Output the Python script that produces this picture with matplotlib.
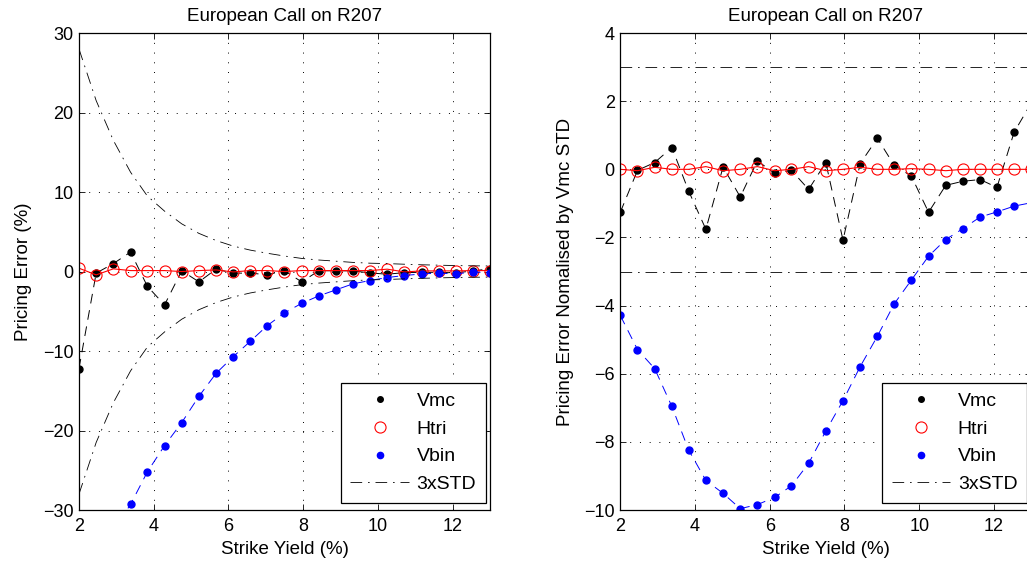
import numpy as np
import matplotlib
matplotlib.use("Agg")
import matplotlib.pyplot as plt
from matplotlib.lines import Line2D

plt.rcParams['font.family'] = ['Liberation Sans', 'DejaVu Sans']
plt.rcParams['font.size'] = 13

# strike yields (%)
strikes = [2.00, 2.46, 2.92, 3.38, 3.83, 4.29, 4.75, 5.21, 5.67, 6.13,
           6.58, 7.04, 7.50, 7.96, 8.42, 8.88, 9.33, 9.79, 10.25, 10.71,
           11.17, 11.63, 12.08, 12.54, 13.00]

# pricing error (%)
vmc_err = [-12.2, -0.2, 1.0, 2.45, -1.85, -4.2, 0.1, -1.3, 0.3, -0.2,
           -0.2, -0.4, 0.1, -1.3, 0.1, 0.1, 0.08, -0.17, -0.34, -0.13,
           -0.1, -0.1, -0.17, 0.08, 0.34]
htri_err = [0.42, -0.42, 0.34, 0.12, 0.12, 0.12, 0.0, 0.12, 0.2, -0.05,
            0.12, 0.12, 0.0, 0.12, 0.12, 0.12, 0.12, 0.12, 0.3, -0.05,
            0.08, 0.08, 0.08, 0.12, 0.12]
vbin_err = [-40.0, -37.0, -32.5, -29.3, -25.2, -21.9, -19.0, -15.7, -12.8, -10.7,
            -8.8, -6.8, -5.2, -4.0, -3.06, -2.3, -1.55, -1.13, -0.75, -0.5,
            -0.3, -0.2, -0.3, -0.05, -0.15]
std3 = [28.0, 21.5, 16.5, 12.5, 9.5, 7.6, 6.0, 4.8, 3.9, 3.2,
        2.7, 2.3, 1.95, 1.65, 1.45, 1.3, 1.15, 1.05, 1.0, 0.92,
        0.85, 0.8, 0.75, 0.72, 0.7]

# pricing error normalised by Vmc STD
vmc_norm = [-1.26, -0.03, 0.2, 0.64, -0.64, -1.76, 0.07, -0.81, 0.25, -0.12,
            -0.03, -0.59, 0.2, -2.08, 0.17, 0.91, 0.12, -0.2, -1.26, -0.47,
            -0.35, -0.3, -0.53, 1.09, 1.95]
htri_norm = [0.0, -0.04, 0.06, 0.0, 0.0, 0.08, -0.04, 0.0, 0.08, -0.04,
             0.0, 0.08, -0.04, 0.0, 0.06, 0.0, 0.0, 0.02, 0.0, -0.04,
             0.0, 0.0, 0.0, 0.0, 0.0]
vbin_norm = [-4.29, -5.29, -5.85, -6.96, -8.24, -9.13, -9.51, -9.96, -9.84, -9.63,
             -9.29, -8.63, -7.68, -6.79, -5.79, -4.90, -3.95, -3.25, -2.55, -2.06,
             -1.74, -1.40, -1.25, -1.08, -0.98]
std_band = [3, 3]
band_x = [2, 13]

dashed = (0, (10, 7))
dashdot = (0, (14, 7, 2, 7))
grid_dots = (0, (1, 9))


def style_axes(ax, ylim, yticks):
    ax.set_xlim(2, 13)
    ax.set_ylim(*ylim)
    ax.set_xticks([2, 4, 6, 8, 10, 12])
    ax.set_yticks(yticks)
    ax.tick_params(direction='in', top=True, right=True, length=4, width=0.6,
                   labelsize=13, pad=4)
    ax.tick_params(axis='x', pad=6)
    ax.grid(True, color='black', linestyle=grid_dots, linewidth=0.7)
    for s in ax.spines.values():
        s.set_linewidth(0.9)
    ax.set_title("European Call on R207", fontsize=13.5, pad=9)
    ax.set_xlabel("Strike Yield (%)", fontsize=13.5, labelpad=4)


def add_legend(ax):
    handles = [
        Line2D([], [], color='black', marker='o', ms=4, linestyle='none'),
        Line2D([], [], color='red', marker='o', ms=8, mfc='none', mew=0.8, linestyle='none'),
        Line2D([], [], color='blue', marker='o', ms=4.5, linestyle='none'),
        Line2D([], [], color='black', linestyle=dashdot, linewidth=0.6),
    ]
    leg = ax.legend(handles, ["Vmc", "Htri", "Vbin", "3xSTD"],
                    loc='lower right', bbox_to_anchor=(0.99, 0.015),
                    borderaxespad=0, fancybox=False, framealpha=1,
                    edgecolor='black', fontsize=14, handlelength=3.0,
                    handletextpad=0.4, labelspacing=0.52, borderpad=0.5,
                    numpoints=1)
    leg.get_frame().set_linewidth(0.9)


fig = plt.figure(figsize=(10.27, 5.65), dpi=100)

# left panel: raw pricing error
ax1 = fig.add_axes([0.0769, 0.0973, 0.4002, 0.8442])
ax1.plot(strikes, vmc_err, color='black', linestyle=dashed, linewidth=0.7)
ax1.plot(strikes, vmc_err, 'o', color='black', ms=5)
ax1.plot(strikes, htri_err, color='red', linewidth=0.8)
ax1.plot(strikes, htri_err, 'o', color='red', ms=8, mfc='none', mew=0.8)
ax1.plot(strikes, vbin_err, color='blue', linestyle=dashed, linewidth=0.7)
ax1.plot(strikes, vbin_err, 'o', color='blue', ms=5)
ax1.plot(strikes, std3, color='black', linestyle=dashdot, linewidth=0.6)
ax1.plot(strikes, [-v for v in std3], color='black', linestyle=dashdot, linewidth=0.6)
style_axes(ax1, (-30, 30), [-30, -20, -10, 0, 10, 20, 30])
ax1.set_ylabel("Pricing Error (%)", fontsize=13.5, labelpad=8)
add_legend(ax1)

# right panel: error normalised by Vmc STD
ax2 = fig.add_axes([0.6040, 0.0973, 0.4002, 0.8442])
ax2.plot(strikes, vmc_norm, color='black', linestyle=dashed, linewidth=0.7)
ax2.plot(strikes, vmc_norm, 'o', color='black', ms=5)
ax2.plot(strikes, htri_norm, color='red', linewidth=0.8)
ax2.plot(strikes, htri_norm, 'o', color='red', ms=8, mfc='none', mew=0.8)
ax2.plot(strikes, vbin_norm, color='blue', linestyle=dashed, linewidth=0.7)
ax2.plot(strikes, vbin_norm, 'o', color='blue', ms=5)
ax2.plot(band_x, std_band, color='black', linestyle=dashdot, linewidth=0.6)
ax2.plot(band_x, [-v for v in std_band], color='black', linestyle=dashdot, linewidth=0.6)
style_axes(ax2, (-10, 4), [-10, -8, -6, -4, -2, 0, 2, 4])
ax2.set_ylabel("Pricing Error Nomalised by Vmc STD", fontsize=13.5, labelpad=7)
add_legend(ax2)

fig.savefig("out.png", dpi=100)
